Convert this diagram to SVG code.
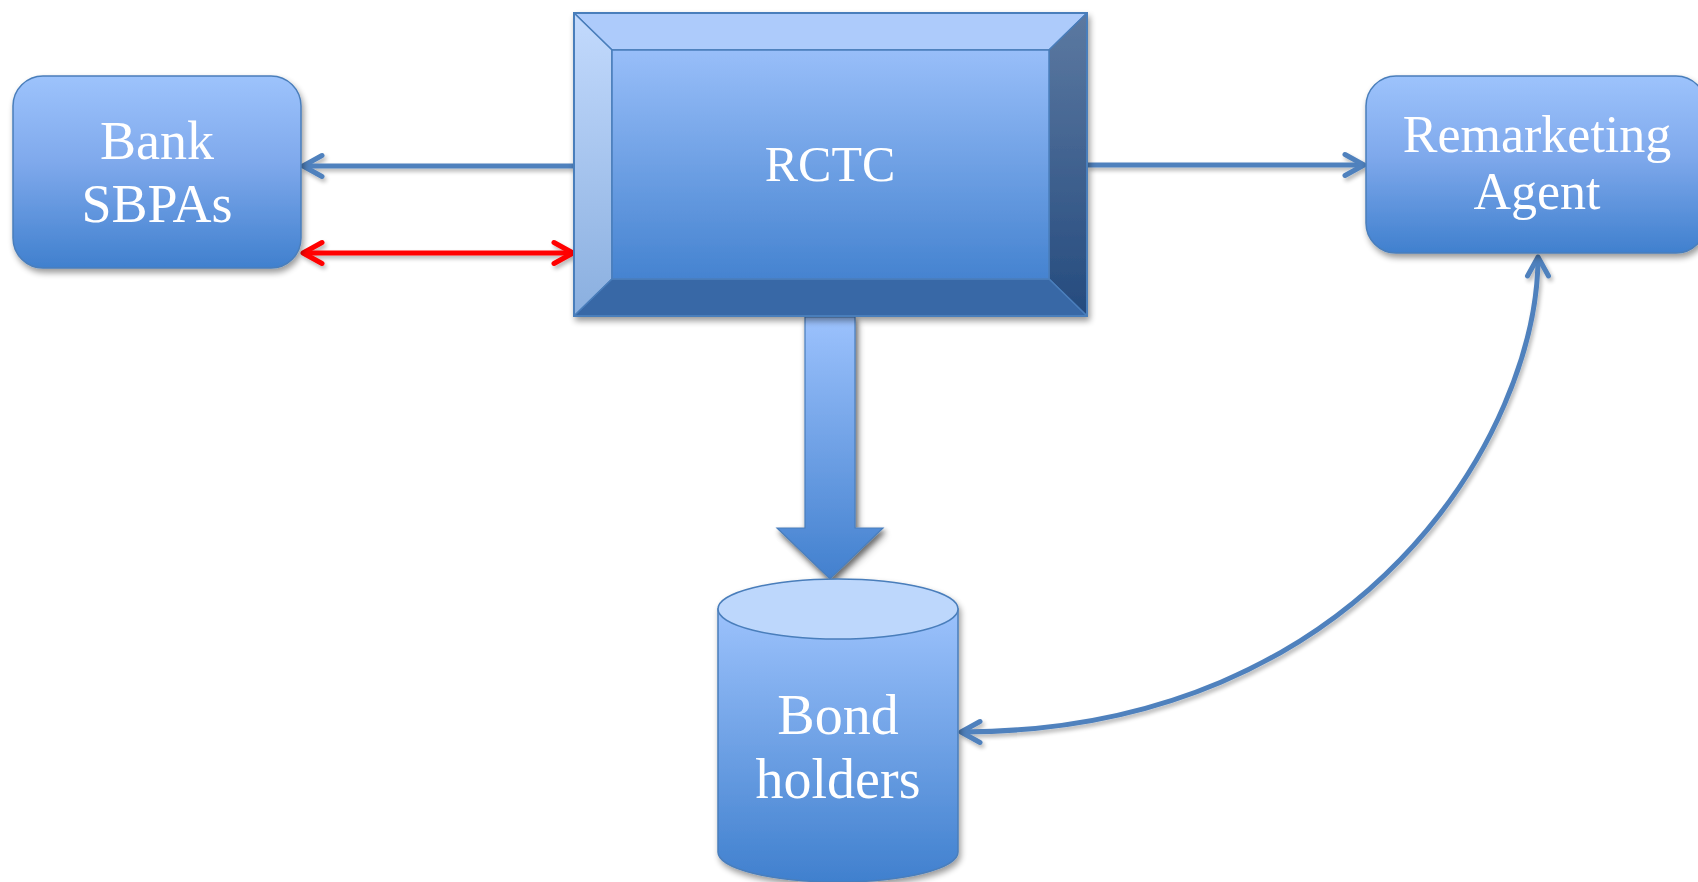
<svg xmlns="http://www.w3.org/2000/svg" width="1698" height="882" viewBox="0 0 1698 882">
  <defs>
    <linearGradient id="boxGrad" x1="0" y1="0" x2="0" y2="1">
      <stop offset="0" stop-color="#9DC3FC"/>
      <stop offset="0.45" stop-color="#7FA9EC"/>
      <stop offset="1" stop-color="#4080CE"/>
    </linearGradient>
    <linearGradient id="faceGrad" x1="0" y1="0" x2="0" y2="1">
      <stop offset="0" stop-color="#98BEF9"/>
      <stop offset="1" stop-color="#4583D0"/>
    </linearGradient>
    <linearGradient id="leftGrad" x1="0" y1="0" x2="0" y2="1">
      <stop offset="0" stop-color="#C3DAFD"/>
      <stop offset="1" stop-color="#8AAFDF"/>
    </linearGradient>
    <linearGradient id="rightGrad" x1="0" y1="0" x2="0" y2="1">
      <stop offset="0" stop-color="#5C79A1"/>
      <stop offset="1" stop-color="#254B7E"/>
    </linearGradient>
    <linearGradient id="shaftGrad" x1="0" y1="0" x2="0" y2="1">
      <stop offset="0" stop-color="#9CC2FD"/>
      <stop offset="1" stop-color="#4280CE"/>
    </linearGradient>
    <linearGradient id="cylGrad" x1="0" y1="0" x2="0" y2="1">
      <stop offset="0" stop-color="#9CC2FC"/>
      <stop offset="1" stop-color="#4080CE"/>
    </linearGradient>
    <filter id="shadow" x="-10%" y="-10%" width="125%" height="130%">
      <feGaussianBlur in="SourceAlpha" stdDeviation="3"/>
      <feOffset dx="2" dy="4" result="b"/>
      <feComponentTransfer><feFuncA type="linear" slope="0.4"/></feComponentTransfer>
      <feMerge><feMergeNode/><feMergeNode in="SourceGraphic"/></feMerge>
    </filter>
    <filter id="lineShadow" x="-5%" y="-50%" width="110%" height="300%">
      <feGaussianBlur in="SourceAlpha" stdDeviation="2"/>
      <feOffset dx="2" dy="3" result="b"/>
      <feComponentTransfer><feFuncA type="linear" slope="0.3"/></feComponentTransfer>
      <feMerge><feMergeNode/><feMergeNode in="SourceGraphic"/></feMerge>
    </filter>
    <marker id="chevBlue" markerUnits="userSpaceOnUse" markerWidth="30" markerHeight="30" refX="22" refY="12" orient="auto-start-reverse" viewBox="0 0 30 24">
      <path d="M3,1.5 L22,12 L3,22.5" fill="none" stroke="#4F81BD" stroke-width="5" stroke-linecap="round" stroke-linejoin="round"/>
    </marker>
    <marker id="chevRed" markerUnits="userSpaceOnUse" markerWidth="30" markerHeight="30" refX="22" refY="12" orient="auto-start-reverse" viewBox="0 0 30 24">
      <path d="M3,1.5 L22,12 L3,22.5" fill="none" stroke="#FF0000" stroke-width="5" stroke-linecap="round" stroke-linejoin="round"/>
    </marker>
  </defs>
  <style>
    .box { fill: url(#boxGrad); stroke: #4A7EBB; stroke-width: 1.5; }
    .bevel { stroke: #4A7EBB; stroke-width: 1.5; stroke-linejoin: round; }
    .label { font-family: "Liberation Serif", "DejaVu Serif", serif; fill: #FFFFFF; text-anchor: middle; }
    .link { fill: none; stroke: #4F81BD; stroke-width: 5; }
    .red { fill: none; stroke: #FF0000; stroke-width: 5; }
  </style>

  <rect width="1698" height="882" fill="#FFFFFF"/>

  <!-- connectors -->
  <g id="connectors" filter="url(#lineShadow)">
    <line class="link" x1="574" y1="166" x2="303" y2="166" marker-end="url(#chevBlue)"/>
    <line class="red" x1="303" y1="253" x2="573" y2="253" marker-start="url(#chevRed)" marker-end="url(#chevRed)"/>
    <line class="link" x1="1087" y1="165" x2="1364" y2="165" marker-end="url(#chevBlue)"/>
    <path class="link" d="M1538,257 C1538,431 1363,732 961,732" marker-start="url(#chevBlue)" marker-end="url(#chevBlue)"/>
    <path d="M805,317 L855,317 L855,528 L883,528 L830,579 L777,528 L805,528 Z" fill="url(#shaftGrad)" stroke="#4A7EBB" stroke-width="1.2" filter="url(#shadow)"/>
  </g>

  <!-- Bank SBPAs -->
  <g id="bank" filter="url(#shadow)">
    <rect class="box" x="13" y="76" width="288" height="192" rx="30" ry="30"/>
    <text class="label" x="157" y="159" font-size="54">Bank</text>
    <text class="label" x="157" y="222" font-size="54">SBPAs</text>
  </g>

  <!-- RCTC bevelled block -->
  <g id="rctc" filter="url(#shadow)">
    <rect x="574" y="13" width="513" height="303" fill="url(#faceGrad)"/>
    <polygon class="bevel" points="574,13 1087,13 1049,50 612,50" fill="#ADCBFB"/>
    <polygon class="bevel" points="574,13 612,50 612,279 574,316" fill="url(#leftGrad)"/>
    <polygon class="bevel" points="1087,13 1087,316 1049,279 1049,50" fill="url(#rightGrad)"/>
    <polygon class="bevel" points="612,279 1049,279 1087,316 574,316" fill="#3767A6"/>
    <rect class="bevel" x="612" y="50" width="437" height="229" fill="url(#faceGrad)"/>
    <rect x="574" y="13" width="513" height="303" fill="none" stroke="#4A7EBB" stroke-width="2"/>
    <text class="label" x="830" y="181" font-size="50">RCTC</text>
  </g>

  <!-- Remarketing Agent -->
  <g id="remarketing" filter="url(#shadow)">
    <rect class="box" x="1366" y="76" width="340" height="177" rx="30" ry="30"/>
    <text class="label" x="1537" y="152" font-size="52">Remarketing</text>
    <text class="label" x="1537" y="209" font-size="52">Agent</text>
  </g>

  <!-- Bond holders cylinder -->
  <g id="bondholders" filter="url(#shadow)">
    <path d="M718,609 L718,852 A120,30 0 0 0 958,852 L958,609 Z" fill="url(#cylGrad)" stroke="#4A7EBB" stroke-width="1.5"/>
    <ellipse cx="838" cy="609" rx="120" ry="30" fill="#BDD7FC" stroke="#4A7EBB" stroke-width="1.5"/>
    <text class="label" x="838" y="734" font-size="56">Bond</text>
    <text class="label" x="838" y="798" font-size="56">holders</text>
  </g>
</svg>
